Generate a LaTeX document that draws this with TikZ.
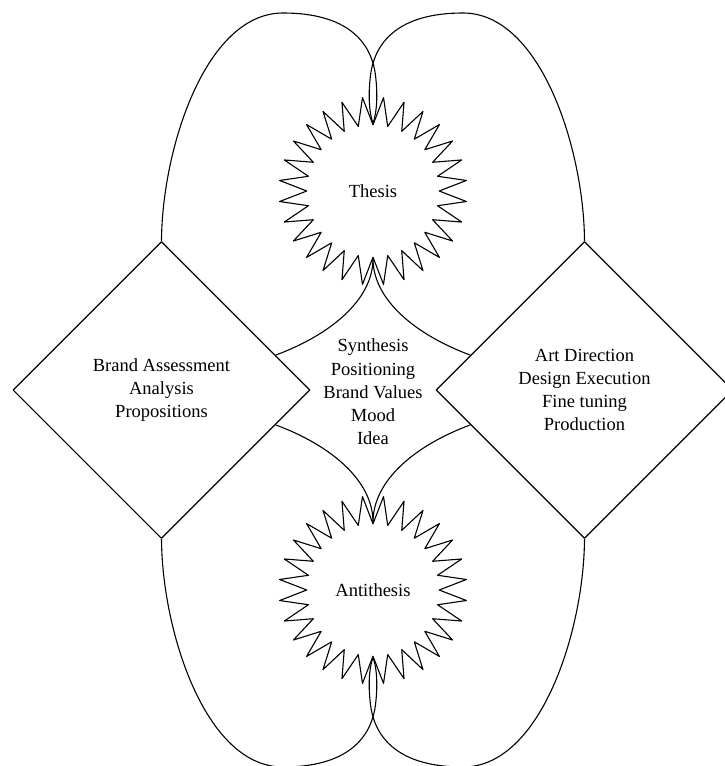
\documentclass[tikz,border=0pt]{standalone}
\usepackage{fontspec}
\setmainfont{Liberation Serif}
\usetikzlibrary{shapes.geometric}
\begin{document}
\begin{tikzpicture}[x=1pt, y=1pt, line join=round, line width=1.1pt,
  font=\fontsize{18.5}{23.2}\selectfont,
  box/.style={diamond, draw, minimum width=297pt, minimum height=297pt, inner sep=0pt, align=center},
  burst/.style={star, star points=28, star point ratio=1.42, minimum size=188pt, inner sep=0pt, shape border rotate=360/56, draw}]
  \useasboundingbox (-373,-376) rectangle (352,390);
  \node[box] (L) at (-211.5,0) {Brand Assessment\\Analysis\\Propositions};
  \node[box] (R) at (211.5,0) {Art Direction\\Design Execution\\Fine tuning\\Production};
  \node[burst] (T) at (0,199) {Thesis};
  \node[burst] (A) at (0,-200) {Antithesis};
  \node[align=center] (S) at (0,-2) {Synthesis\\Positioning\\Brand Values\\Mood\\Idea};
  % outer lobes and inner arcs, mirrored
  \foreach \d/\s/\o/\i/\a/\sx/\sy in {L/T/north/south/17/1/1, R/T/north/south/163/-1/1, L/A/south/north/343/1/-1, R/A/south/north/197/-1/-1}{
    \begin{scope}[xscale=\sx, yscale=\sy]
      \draw (\d.\o) .. controls (-211,240) and (-168,377) .. (-90,377)
        .. controls (-28,377) and (0,350) .. (3,310)
        .. controls (5,290) and (3,275) .. (\s.\o);
      \draw (\d.\a) .. controls (-43,55) and (0,90) .. (\s.\i);
    \end{scope}
  }
\end{tikzpicture}
\end{document}
